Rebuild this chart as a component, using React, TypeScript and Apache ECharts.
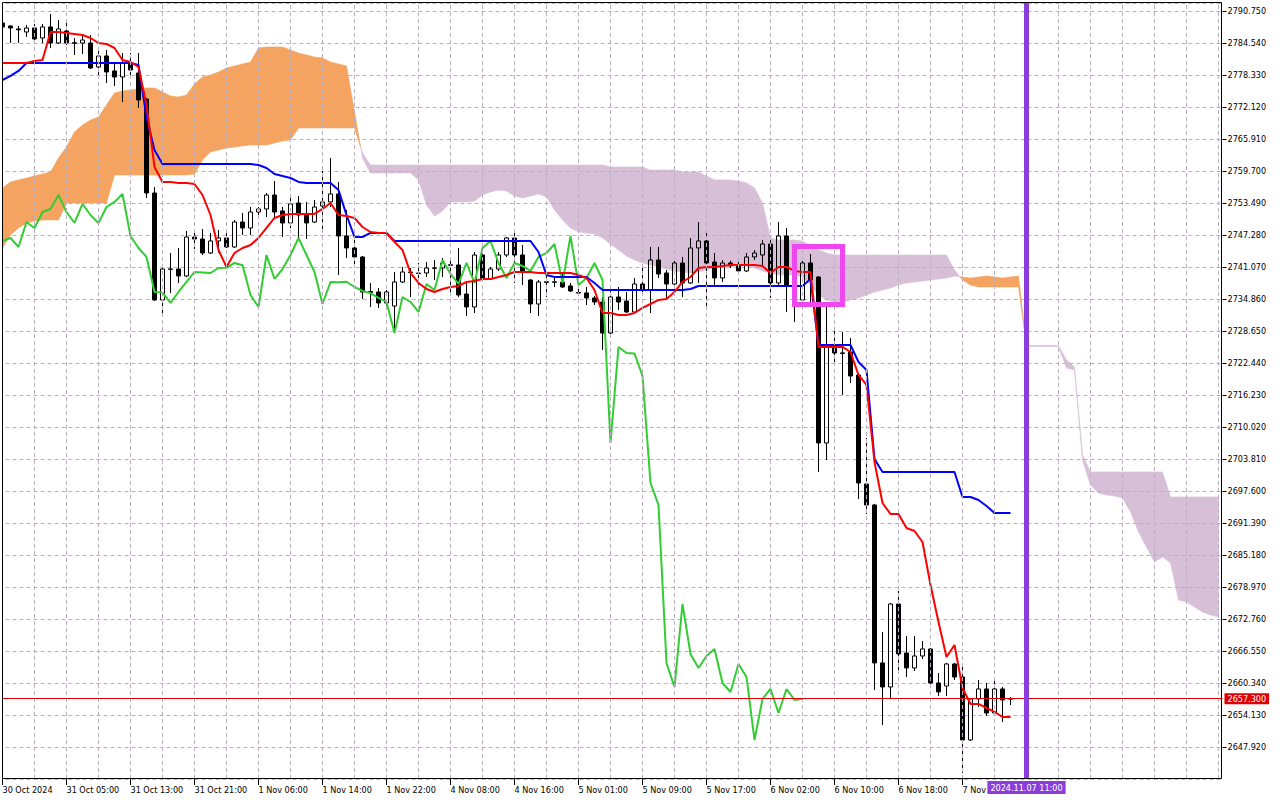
import React, { useEffect, useRef } from "react";
import * as echarts from "echarts";

// ---------- data ----------
const timeLabels = [
  "30 Oct 2024", "31 Oct 05:00", "31 Oct 13:00", "31 Oct 21:00", "1 Nov 06:00", "1 Nov 14:00",
  "1 Nov 22:00", "4 Nov 08:00", "4 Nov 16:00", "5 Nov 01:00", "5 Nov 09:00", "5 Nov 17:00",
  "6 Nov 02:00", "6 Nov 10:00", "6 Nov 18:00", "7 Nov",
];

const opens = [
  2788.42, 2787.84, 2787.26, 2786.67, 2787.45, 2785.51, 2787.65, 2784.54, 2786.87, 2784.60,
  2784.54, 2784.54, 2779.88, 2782.02, 2779.11, 2777.94, 2780.66, 2778.72, 2773.67, 2755.43,
  2734.67, 2740.60, 2740.68, 2739.33, 2746.89, 2746.50, 2743.79, 2746.12, 2746.70, 2744.95,
  2749.80, 2748.64, 2751.74, 2752.33, 2755.04, 2751.94, 2749.61, 2753.49, 2751.16, 2749.80,
  2752.91, 2753.69, 2755.24, 2747.09, 2744.76, 2743.01, 2736.30, 2736.22, 2734.09, 2733.50,
  2738.16, 2740.10, 2739.80, 2739.91, 2740.80, 2740.88, 2741.50, 2741.46, 2735.83, 2733.31,
  2743.40, 2738.74, 2740.68, 2743.40, 2746.70, 2743.40, 2738.55, 2733.89, 2738.20, 2738.10,
  2738.16, 2737.39, 2736.10, 2736.03, 2735.06, 2734.28, 2728.26, 2735.25, 2734.47, 2732.34,
  2737.77, 2736.61, 2742.43, 2739.91, 2737.77, 2741.85, 2737.97, 2744.76, 2746.12, 2742.04,
  2738.94, 2741.85, 2741.27, 2740.30, 2743.01, 2743.40, 2745.53, 2737.97, 2747.09, 2734.67,
  2734.67, 2741.85, 2739.13, 2706.92, 2725.55, 2724.40, 2724.57, 2720.11, 2698.96, 2694.89,
  2664.23, 2659.57, 2675.67, 2666.16, 2663.26, 2665.58, 2666.94, 2660.34, 2659.76, 2664.03,
  2661.51, 2649.29, 2657.24, 2659.18, 2654.52, 2659.18, 2657.20,
];

const closes = [
  2787.65, 2787.45, 2787.10, 2787.45, 2785.32, 2787.65, 2784.54, 2787.26, 2784.54, 2784.50,
  2785.12, 2779.69, 2782.02, 2778.91, 2777.94, 2780.66, 2779.30, 2773.48, 2755.43, 2734.67,
  2740.68, 2740.70, 2739.33, 2746.89, 2746.50, 2743.79, 2746.12, 2746.70, 2744.95, 2749.80,
  2748.64, 2751.74, 2752.33, 2755.04, 2751.74, 2749.61, 2753.30, 2751.16, 2749.61, 2752.71,
  2753.69, 2755.24, 2747.09, 2744.76, 2743.01, 2736.22, 2736.10, 2734.09, 2736.22, 2738.16,
  2740.10, 2740.00, 2739.90, 2740.88, 2740.90, 2741.85, 2741.40, 2735.64, 2733.31, 2743.40,
  2738.74, 2740.68, 2743.40, 2746.70, 2743.40, 2740.10, 2733.89, 2738.16, 2738.10, 2738.20,
  2737.19, 2736.42, 2736.00, 2735.06, 2734.28, 2728.26, 2735.25, 2734.28, 2732.34, 2737.77,
  2736.61, 2742.43, 2739.71, 2737.77, 2741.85, 2737.97, 2744.76, 2746.12, 2741.85, 2738.94,
  2741.85, 2741.27, 2740.30, 2743.01, 2743.79, 2745.53, 2737.97, 2747.09, 2737.58, 2738.94,
  2741.85, 2738.55, 2706.92, 2725.55, 2724.38, 2724.30, 2719.92, 2699.15, 2694.89, 2664.23,
  2659.57, 2675.67, 2665.97, 2663.26, 2665.58, 2666.94, 2660.34, 2658.60, 2664.03, 2661.51,
  2649.29, 2657.24, 2659.18, 2654.52, 2659.18, 2657.05, 2657.30,
];

const lows = [
  2787.45, 2784.54, 2784.54, 2785.70, 2785.12, 2784.54, 2783.57, 2784.35, 2784.15, 2782.21,
  2782.41, 2779.50, 2777.94, 2776.78, 2776.19, 2773.09, 2777.94, 2771.93, 2754.46, 2734.50,
  2731.38, 2736.03, 2737.97, 2739.10, 2744.56, 2743.40, 2743.60, 2743.79, 2744.76, 2744.76,
  2747.28, 2747.28, 2750.58, 2750.77, 2750.77, 2746.89, 2748.64, 2746.50, 2746.50, 2749.60,
  2748.25, 2752.71, 2739.52, 2742.82, 2741.07, 2734.86, 2733.31, 2733.12, 2732.73, 2728.26,
  2737.97, 2735.25, 2737.00, 2739.13, 2738.55, 2739.13, 2735.64, 2735.25, 2731.56, 2732.14,
  2738.55, 2738.55, 2740.30, 2743.01, 2737.97, 2737.58, 2732.14, 2731.56, 2735.25, 2737.19,
  2737.00, 2736.22, 2735.90, 2733.70, 2733.70, 2724.96, 2727.88, 2732.73, 2732.14, 2732.14,
  2736.22, 2732.14, 2738.94, 2734.67, 2737.19, 2735.25, 2737.77, 2737.97, 2733.12, 2737.58,
  2738.16, 2740.88, 2739.91, 2740.10, 2742.43, 2741.07, 2735.06, 2737.39, 2732.34, 2730.40,
  2733.12, 2733.31, 2701.29, 2703.62, 2722.63, 2716.23, 2718.56, 2696.05, 2693.14, 2658.99,
  2652.19, 2657.24, 2662.67, 2661.51, 2662.67, 2665.00, 2659.37, 2657.82, 2657.82, 2660.93,
  2642.88, 2649.10, 2655.69, 2653.94, 2654.30, 2652.77, 2656.07,
];

const highs = [
  2788.62, 2788.00, 2787.84, 2788.03, 2788.23, 2788.23, 2790.17, 2789.00, 2788.42, 2785.51,
  2786.09, 2786.09, 2783.76, 2783.18, 2780.66, 2782.60, 2782.60, 2782.60, 2773.87, 2756.60,
  2741.46, 2743.79, 2744.76, 2748.06, 2748.25, 2748.44, 2747.67, 2748.25, 2747.67, 2750.19,
  2751.55, 2752.71, 2752.71, 2755.43, 2757.76, 2752.71, 2754.65, 2754.85, 2753.69, 2754.07,
  2759.70, 2762.22, 2757.57, 2752.13, 2746.31, 2743.20, 2737.97, 2737.00, 2736.61, 2740.10,
  2741.07, 2740.88, 2741.85, 2742.04, 2742.43, 2742.82, 2742.82, 2744.76, 2737.97, 2743.98,
  2744.95, 2741.07, 2743.98, 2746.89, 2748.25, 2745.34, 2738.70, 2738.55, 2739.91, 2739.13,
  2739.70, 2737.97, 2739.13, 2737.19, 2735.45, 2735.25, 2736.61, 2737.19, 2736.22, 2738.94,
  2741.07, 2744.95, 2744.95, 2740.49, 2742.62, 2743.01, 2746.70, 2749.80, 2747.67, 2743.79,
  2742.43, 2742.30, 2742.04, 2743.79, 2744.37, 2746.31, 2746.31, 2749.80, 2748.64, 2740.49,
  2743.01, 2743.60, 2739.30, 2734.09, 2728.85, 2728.46, 2727.29, 2720.30, 2707.89, 2695.10,
  2670.24, 2675.87, 2678.19, 2669.46, 2669.46, 2668.49, 2667.10, 2662.28, 2664.23, 2664.23,
  2663.84, 2657.40, 2660.93, 2660.34, 2660.73, 2659.57, 2657.63,
];

// Tenkan-sen (red)
const tenkan = [
  2780.66, 2780.66, 2780.66, 2780.66, 2781.05, 2781.24, 2786.68, 2786.68, 2786.48, 2786.29,
  2786.09, 2785.51, 2784.54, 2784.35, 2783.57, 2781.24, 2780.85, 2779.88, 2772.51, 2760.48,
  2757.57, 2757.57, 2757.37, 2757.37, 2757.18, 2755.04, 2751.16, 2744.37, 2741.07, 2743.79,
  2744.76, 2745.34, 2746.70, 2748.64, 2750.58, 2751.16, 2751.36, 2751.36, 2751.36, 2751.36,
  2752.33, 2753.49, 2751.16, 2750.97, 2750.58, 2748.83, 2747.86, 2747.67, 2747.67, 2745.92,
  2744.37, 2739.91, 2737.97, 2736.80, 2736.22, 2736.80, 2737.19, 2737.39, 2738.16, 2738.36,
  2738.74, 2738.74, 2739.13, 2739.52, 2740.10, 2740.10, 2740.10, 2739.91, 2739.91, 2739.91,
  2739.91, 2739.91, 2739.52, 2738.94, 2736.61, 2732.14, 2732.14, 2731.75, 2731.75, 2732.14,
  2733.12, 2733.89, 2734.67, 2734.86, 2736.22, 2738.16, 2739.13, 2740.88, 2741.07, 2741.07,
  2741.26, 2741.46, 2741.46, 2741.46, 2741.46, 2741.26, 2739.91, 2741.07, 2741.07, 2740.30,
  2740.10, 2740.10, 2725.55, 2725.55, 2725.55, 2725.55, 2724.57, 2720.11, 2718.17, 2703.23,
  2695.27, 2693.14, 2693.14, 2690.42, 2689.84, 2687.70, 2679.36, 2672.18, 2665.39, 2667.72,
  2659.37, 2656.27, 2656.27, 2655.49, 2654.72, 2653.74, 2653.74,
];

// Kijun-sen (blue)
const kijun = [
  2777.36, 2778.14, 2779.11, 2780.66, 2780.66, 2780.66, 2780.66, 2780.66, 2780.66, 2780.66,
  2780.66, 2780.66, 2780.66, 2780.66, 2780.66, 2780.66, 2780.66, 2780.27, 2770.18, 2763.78,
  2761.06, 2761.06, 2761.06, 2761.06, 2761.06, 2761.06, 2761.06, 2761.06, 2761.06, 2761.06,
  2761.06, 2761.06, 2760.86, 2760.28, 2759.12, 2758.73, 2758.34, 2757.57, 2757.37, 2757.37,
  2757.37, 2757.37, 2756.01, 2751.16, 2746.89, 2746.89, 2747.67, 2747.67, 2747.67, 2746.12,
  2746.12, 2746.12, 2746.12, 2746.12, 2746.12, 2746.12, 2746.12, 2746.12, 2746.12, 2746.12,
  2746.12, 2746.12, 2746.12, 2746.12, 2746.12, 2746.12, 2746.12, 2743.98, 2739.52, 2739.13,
  2739.13, 2739.13, 2739.13, 2739.13, 2737.97, 2736.61, 2736.61, 2736.61, 2736.61, 2736.61,
  2736.61, 2736.61, 2736.61, 2736.61, 2736.61, 2736.61, 2736.80, 2737.39, 2737.39, 2737.39,
  2737.39, 2737.39, 2737.39, 2737.39, 2737.39, 2737.39, 2737.39, 2737.39, 2737.39, 2737.39,
  2737.39, 2738.74, 2725.93, 2725.93, 2725.93, 2725.93, 2725.93, 2722.63, 2721.08, 2703.81,
  2701.29, 2701.29, 2701.29, 2701.29, 2701.29, 2701.29, 2701.29, 2701.29, 2701.29, 2701.29,
  2696.44, 2696.44, 2695.86, 2694.69, 2693.33, 2693.33, 2693.33,
];

// Senkou Span A (already shifted 26 bars forward)
const spanA = [
  2756.40, 2757.57, 2757.95, 2758.34, 2758.73, 2759.12, 2759.51, 2762.22, 2764.36, 2767.27,
  2768.63, 2769.60, 2770.18, 2772.51, 2774.84, 2775.22, 2775.42, 2775.61, 2775.81, 2775.81,
  2775.03, 2774.26, 2774.06, 2774.45, 2776.59, 2777.94, 2778.33, 2778.91, 2779.69, 2780.08,
  2780.47, 2780.85, 2783.57, 2783.76, 2783.76, 2783.76, 2783.18, 2782.60, 2782.21, 2781.82,
  2781.63, 2780.85, 2780.47, 2780.08, 2771.15, 2762.22, 2759.31, 2759.31, 2759.31, 2759.31,
  2759.31, 2759.31, 2757.95, 2753.10, 2750.97, 2751.94, 2753.69, 2753.69, 2753.69, 2753.88,
  2755.04, 2755.62, 2756.01, 2755.82, 2754.85, 2754.46, 2754.85, 2755.24, 2754.65, 2752.13,
  2750.19, 2748.64, 2747.86, 2747.67, 2747.47, 2746.70, 2745.53, 2744.37, 2743.20, 2742.43,
  2741.85, 2741.46, 2741.07, 2740.68, 2740.30, 2740.10, 2739.91, 2740.10, 2740.49, 2740.88,
  2741.26, 2741.46, 2741.46, 2741.26, 2740.88, 2740.30, 2739.91, 2739.52, 2739.52, 2739.52,
  2739.13, 2737.58, 2735.64, 2734.67, 2734.28, 2734.28, 2734.67, 2735.06, 2735.64, 2736.22,
  2736.61, 2737.00, 2737.58, 2737.97, 2738.16, 2738.36, 2738.55, 2738.74, 2738.94, 2739.33,
  2739.13, 2738.94, 2739.13, 2739.33, 2739.13, 2738.94, 2739.13, 2739.33, 2725.64, 2725.64,
  2725.64, 2725.64, 2725.64, 2721.47, 2721.08, 2703.62, 2698.77, 2697.21, 2696.83, 2696.63,
  2696.25, 2693.53, 2689.64, 2686.73, 2683.82, 2684.79, 2683.63, 2676.45, 2676.06, 2675.09,
  2674.12, 2673.54, 2673.15,
];

// Senkou Span B (already shifted 26 bars forward)
const spanB = [
  2744.76, 2747.28, 2748.64, 2749.61, 2749.99, 2750.19, 2750.19, 2750.19, 2753.49, 2753.49,
  2753.49, 2753.49, 2753.49, 2753.49, 2758.92, 2758.92, 2758.92, 2758.92, 2758.92, 2758.92,
  2758.92, 2758.92, 2758.92, 2758.92, 2759.12, 2761.84, 2763.39, 2763.78, 2764.16, 2764.36,
  2764.55, 2764.75, 2764.75, 2764.75, 2765.13, 2765.52, 2765.72, 2768.05, 2768.05, 2768.05,
  2768.05, 2768.05, 2768.05, 2768.05, 2768.05, 2763.19, 2760.86, 2760.86, 2760.86, 2760.86,
  2760.86, 2760.86, 2760.86, 2760.86, 2760.86, 2760.86, 2760.86, 2760.86, 2760.86, 2760.86,
  2760.86, 2760.86, 2760.86, 2760.86, 2760.86, 2760.86, 2760.86, 2760.86, 2760.86, 2760.86,
  2760.86, 2760.86, 2760.86, 2760.86, 2760.86, 2760.86, 2760.48, 2760.48, 2760.48, 2760.48,
  2760.48, 2759.89, 2759.89, 2759.89, 2759.89, 2759.51, 2759.51, 2759.51, 2758.73, 2757.95,
  2757.95, 2757.95, 2757.76, 2757.37, 2756.40, 2753.49, 2746.70, 2746.31, 2746.31, 2746.31,
  2746.12, 2745.15, 2744.37, 2743.79, 2743.40, 2743.40, 2743.40, 2743.40, 2743.40, 2743.40,
  2743.40, 2743.40, 2743.40, 2743.40, 2743.40, 2743.40, 2743.40, 2743.40, 2743.40, 2740.49,
  2738.55, 2737.58, 2737.19, 2737.19, 2737.19, 2737.19, 2737.19, 2737.19, 2725.84, 2725.84,
  2725.84, 2725.84, 2725.84, 2723.02, 2721.67, 2704.59, 2701.29, 2701.29, 2701.29, 2701.29,
  2701.29, 2701.29, 2701.29, 2701.29, 2701.29, 2701.29, 2696.44, 2696.44, 2696.44, 2696.44,
  2696.44, 2696.44, 2696.44,
];

const PRICE_MIN = 2641.71;
const PRICE_MAX = 2792.3;
const PRICE_STEP = 6.21;
const LAST_PRICE = 2657.3;
const CHIKOU_SHIFT = 26;
const FUTURE_BARS = 26;
const LABEL_EVERY = 8;
const GRID_EVERY = 4;
const timeMarker = { label: "2024.11.07 11:00", bar: 128 };
const boxArea = { fromBar: 99, toBar: 105, top: 2745.05, bottom: 2733.79 };

// ---------- styling ----------
const FONT = "'DejaVu Sans Condensed', 'DejaVu Sans', sans-serif";
const GRID_COLOR = "#bcb0c0";
const PURPLE = "#8b3ddb";
const CLOUD_UP = "#f4a460"; // sandybrown: span A above span B
const CLOUD_DOWN = "#d8bfd8"; // thistle: span B above span A

const barCount = opens.length + FUTURE_BARS;
const categories: string[] = [];
for (let i = 0; i < barCount; i++) {
  const k = i / LABEL_EVERY;
  categories.push(i % LABEL_EVERY === 0 && k < timeLabels.length ? timeLabels[k] : "");
}
const candleData = opens.map((o, i) => [o, closes[i], lows[i], highs[i]]);
const chikou = closes.slice(CHIKOU_SHIFT);
const gridBars: number[] = [];
for (let i = 0; i < barCount; i += GRID_EVERY) gridBars.push(i);

function cloudRender(_params: any, api: any) {
  const runs: { up: boolean; top: number[][]; bot: number[][] }[] = [];
  let cur: { up: boolean; top: number[][]; bot: number[][] } | null = null;
  let prevD = 0;
  let prevA: number[] = [0, 0];
  for (let i = 0; i < spanA.length; i++) {
    const pa = api.coord([i, spanA[i]]);
    const pb = api.coord([i, spanB[i]]);
    const d = spanA[i] - spanB[i];
    const up = d >= 0;
    if (cur && cur.up !== up) {
      const t = prevD / (prevD - d);
      const cx = prevA[0] + t * (pa[0] - prevA[0]);
      const cy = prevA[1] + t * (pa[1] - prevA[1]);
      cur.top.push([cx, cy]);
      cur.bot.push([cx, cy]);
      runs.push(cur);
      cur = { up, top: [[cx, cy]], bot: [[cx, cy]] };
    }
    if (!cur) cur = { up, top: [], bot: [] };
    cur.top.push(pa);
    cur.bot.push(pb);
    prevD = d;
    prevA = pa;
  }
  if (cur) runs.push(cur);
  return {
    type: "group",
    children: runs.map((r) => ({
      type: "polygon",
      shape: { points: r.top.concat(r.bot.slice().reverse()) },
      style: { fill: r.up ? CLOUD_UP : CLOUD_DOWN, stroke: r.up ? CLOUD_UP : CLOUD_DOWN, lineWidth: 0.6 },
    })),
  };
}

function boxRender(_params: any, api: any) {
  const p1 = api.coord([boxArea.fromBar, boxArea.top]);
  const p2 = api.coord([boxArea.toBar, boxArea.bottom]);
  return {
    type: "rect",
    shape: { x: p1[0], y: p1[1], width: p2[0] - p1[0], height: p2[1] - p1[1] },
    style: { fill: "none", stroke: "#f046f0", lineWidth: 5 },
  };
}

export default function App() {
  const ref = useRef<HTMLDivElement>(null);
  useEffect(() => {
    const el = ref.current;
    if (!el) return;
    const chart = echarts.init(el, null, { renderer: "svg" });
    chart.setOption({
      animation: false,
      backgroundColor: "#ffffff",
      grid: {
        left: -1.5,
        top: 3,
        width: 1224,
        height: 776,
        containLabel: false,
        outerBoundsMode: "none",
      },
      xAxis: {
        type: "category",
        data: categories,
        boundaryGap: true,
        z: 1,
        axisLine: { show: false },
        axisTick: {
          show: true,
          alignWithLabel: true,
          interval: (_i: number, v: string) => v !== "",
          length: 6,
          lineStyle: { color: "#000", width: 1 },
        },
        axisLabel: {
          interval: (_i: number, v: string) => v !== "",
          align: "left",
          margin: 6,
          color: "#000",
          fontSize: 9,
          fontFamily: FONT,
        },
        splitLine: { show: false },
      },
      yAxis: {
        type: "value",
        position: "right",
        min: PRICE_MIN,
        max: PRICE_MAX,
        interval: PRICE_STEP,
        z: 1,
        axisLine: { show: false },
        axisTick: { show: true, length: 4, lineStyle: { color: "#000", width: 1 } },
        axisLabel: {
          showMinLabel: false,
          showMaxLabel: false,
          margin: 5,
          color: "#000",
          fontSize: 9,
          fontFamily: FONT,
          formatter: (v: number) => v.toFixed(3),
        },
        splitLine: { show: true, lineStyle: { color: GRID_COLOR, type: [4, 3], width: 1 } },
      },
      series: [
        {
          type: "custom",
          renderItem: cloudRender,
          data: [[0, spanA[0]]],
          z: 0,
          clip: true,
          silent: true,
        },
        {
          type: "line",
          data: [],
          z: 1,
          silent: true,
          markLine: {
            silent: true,
            symbol: ["none", "none"],
            label: { show: false },
            lineStyle: { color: GRID_COLOR, type: [4, 3], width: 1 },
            data: gridBars.map((b) => ({ xAxis: b })),
          },
        },
        {
          type: "candlestick",
          data: candleData,
          barWidth: 4,
          z: 3,
          silent: true,
          itemStyle: {
            color: "none",
            color0: "#000000",
            borderColor: "#000000",
            borderColor0: "#000000",
            borderWidth: 1,
          },
        },
        {
          type: "line",
          data: chikou,
          showSymbol: false,
          symbol: "none",
          z: 4,
          silent: true,
          lineStyle: { color: "#32cd32", width: 2 },
        },
        {
          type: "line",
          data: kijun,
          showSymbol: false,
          symbol: "none",
          z: 4,
          silent: true,
          lineStyle: { color: "#0000ff", width: 2 },
        },
        {
          type: "line",
          data: tenkan,
          showSymbol: false,
          symbol: "none",
          z: 4,
          silent: true,
          lineStyle: { color: "#ff0000", width: 2 },
        },
        {
          type: "custom",
          renderItem: boxRender,
          data: [[boxArea.fromBar, boxArea.top]],
          z: 5,
          clip: true,
          silent: true,
        },
        {
          type: "line",
          data: [],
          z: 6,
          silent: true,
          markLine: {
            silent: true,
            symbol: ["none", "none"],
            data: [
              {
                yAxis: LAST_PRICE,
                lineStyle: { color: "#e00000", width: 1, type: "solid" },
                label: {
                  show: true,
                  position: "end",
                  formatter: LAST_PRICE.toFixed(3),
                  color: "#ffffff",
                  backgroundColor: "#e00000",
                  padding: [1, 3, 1, 3],
                  fontSize: 9,
                  fontFamily: FONT,
                  distance: 2,
                },
              },
              {
                xAxis: timeMarker.bar,
                lineStyle: { color: PURPLE, width: 5, type: "solid" },
                label: {
                  show: true,
                  position: "start",
                  formatter: timeMarker.label,
                  color: "#ffffff",
                  backgroundColor: PURPLE,
                  padding: [2, 3, 2, 3],
                  fontSize: 9,
                  fontFamily: FONT,
                  distance: 2,
                },
              },
            ],
          },
        },
      ],
      graphic: [
        {
          type: "rect",
          x: 0,
          y: 0,
          shape: { x: 0, y: 0, width: 2, height: 781 },
          style: { fill: "#ffffff" },
          z: 100,
          silent: true,
        },
        {
          type: "rect",
          x: 0,
          y: 0,
          shape: { x: 2.5, y: 2.5, width: 1219, height: 776 },
          style: { fill: "none", stroke: "#000000", lineWidth: 1 },
          z: 101,
          silent: true,
        },
      ],
    });
    return () => {
      chart.dispose();
    };
  }, []);
  return (
    <div
      ref={ref}
      style={{ position: "fixed", left: 0, top: 0, width: 1280, height: 800, background: "#fff" }}
    />
  );
}
